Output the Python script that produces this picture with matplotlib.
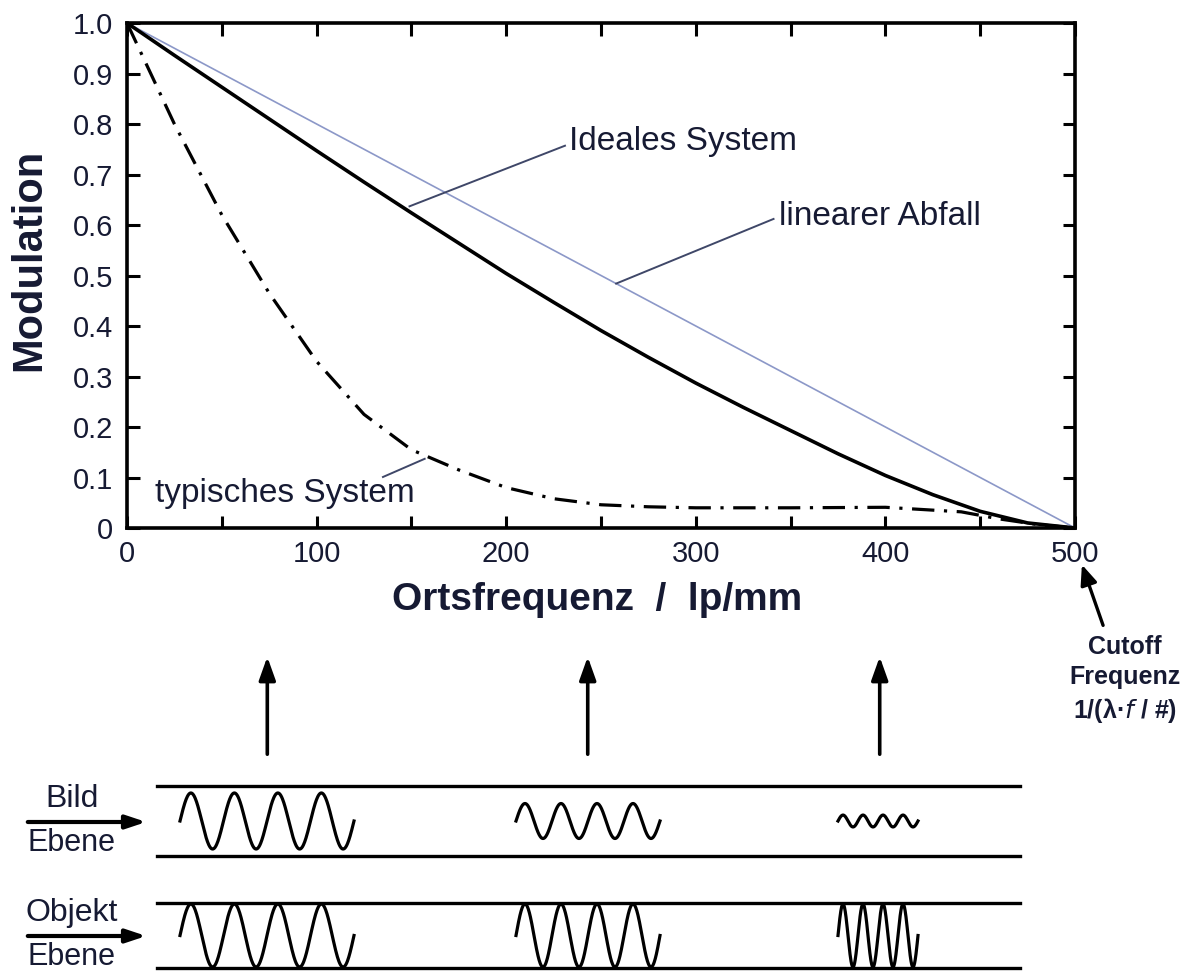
import numpy as np
import matplotlib
matplotlib.use("Agg")
import matplotlib.pyplot as plt

plt.rcParams['font.family'] = ['Liberation Sans', 'DejaVu Sans']

# ---------------- data ----------------
freq_ideal = [0, 25, 50, 75, 100, 125, 150, 175, 200, 225, 250, 275, 300,
              325, 350, 375, 400, 425, 450, 475, 500]
mtf_ideal = [1.0, 0.936, 0.873, 0.810, 0.747, 0.685, 0.624, 0.564, 0.504,
             0.447, 0.391, 0.338, 0.287, 0.239, 0.193, 0.147, 0.104, 0.066,
             0.033, 0.010, 0.0]

freq_linear = [0, 500]
mtf_linear = [1.0, 0.0]

freq_typical = [0, 10, 25, 50, 75, 100, 125, 150, 175, 200, 225, 250, 275,
                300, 350, 400, 440, 460, 480, 500]
mtf_typical = [1.0, 0.92, 0.80, 0.62, 0.465, 0.33, 0.225, 0.155, 0.115,
               0.080, 0.058, 0.046, 0.042, 0.040, 0.040, 0.041, 0.032,
               0.018, 0.007, 0.0]

x_ticks = [0, 100, 200, 300, 400, 500]
x_minor = [50, 150, 250, 350, 450]
y_ticks = [0, 0.1, 0.2, 0.3, 0.4, 0.5, 0.6, 0.7, 0.8, 0.9, 1.0]
y_ticklabels = ['0', '0.1', '0.2', '0.3', '0.4', '0.5', '0.6', '0.7', '0.8', '0.9', '1.0']

# wave diagram: frequencies sampled (arrows), image amplitudes relative to object
sample_freqs = [74, 243, 397]
image_amplitude = [0.85, 0.53, 0.18]
wave_cycles = [4, 4, 4]

TXT = '#161a33'
W, H = 1182, 973

fig = plt.figure(figsize=(W / 100, H / 100), dpi=100)
ax = fig.add_axes([127 / W, 1 - 528 / H, (1075 - 127) / W, (528 - 23) / H])

ax.plot(freq_linear, mtf_linear, color='#8c98c8', lw=1.2, zorder=2)
ax.plot(freq_ideal, mtf_ideal, color='black', lw=2.6, zorder=3,
        solid_capstyle='round')
ax.plot(freq_typical, mtf_typical, color='black', lw=2.3, zorder=3,
        linestyle=(0, (7, 3, 1, 3)))

ax.set_xlim(0, 500)
ax.set_ylim(0, 1.0)
ax.set_xticks(x_ticks)
ax.set_xticks(x_minor, minor=True)
ax.set_yticks(y_ticks)
ax.set_yticklabels(y_ticklabels)
ax.tick_params(axis='both', which='both', direction='in', length=9, width=2.2,
               top=True, right=True, labelsize=21, labelcolor=TXT)
ax.tick_params(axis='y', pad=10)
ax.tick_params(axis='x', pad=9)
for s in ax.spines.values():
    s.set_linewidth(2.6)

fig.text(29 / W, 1 - 260 / H, 'Modulation', fontsize=30, fontweight='bold',
         color=TXT, rotation=90, ha='center', va='center')
fig.text(597 / W, 1 - 600 / H, 'Ortsfrequenz  /  lp/mm', fontsize=28,
         fontweight='bold', color=TXT, ha='center', va='center')

lead = dict(color='#3f4768', lw=1.4)
ax.plot([149, 231], [0.637, 0.757], **lead)
ax.text(233, 0.766, 'Ideales System', fontsize=24, color=TXT, va='center', ha='left')
ax.plot([258, 341], [0.484, 0.612], **lead)
ax.text(344, 0.617, 'linearer Abfall', fontsize=24, color=TXT, va='center', ha='left')
ax.plot([135, 157], [0.101, 0.137], **lead)
ax.text(15, 0.069, 'typisches System', fontsize=24, color=TXT, va='center', ha='left')

# ---------------- lower schematic (pixel coordinates overlay) ----------------
ov = fig.add_axes([0, 0, 1, 1])
ov.set_xlim(0, W)
ov.set_ylim(H, 0)
ov.axis('off')

# cutoff arrow + text
ov.annotate('', xy=(1081, 562), xytext=(1104, 628),
            arrowprops=dict(arrowstyle='-|>,head_length=1.2,head_width=0.5',
                            color='black', lw=2.4))
ov.text(1125, 680, 'Cutoff\nFrequenz\n1/(λ·$f$ / #)', ha='center', va='center',
        fontsize=18, color=TXT, linespacing=1.3, fontweight='bold')

# vertical arrows from waves to chart
arrow_px = [127 + f * (1075 - 127) / 500 for f in sample_freqs]
for xp in arrow_px:
    ov.annotate('', xy=(xp, 654), xytext=(xp, 757),
                arrowprops=dict(arrowstyle='-|>,head_length=1.4,head_width=0.5',
                                color='black', lw=2.6))

# bands
band_x0, band_x1 = 157, 1020
bands = {'bild': (786, 856), 'objekt': (903, 968)}
for top, bot in bands.values():
    ov.plot([band_x0, band_x1], [top, top], color='black', lw=2.4)
    ov.plot([band_x0, band_x1], [bot, bot], color='black', lw=2.4)

wave_ranges = [(180, 354), (516, 660), (838, 918)]
for (x0, x1), amp, nc in zip(wave_ranges, image_amplitude, wave_cycles):
    t = np.linspace(0, 1, 400)
    xs = x0 + (x1 - x0) * t
    phase = 2 * np.pi * nc * t
    c_obj = (bands['objekt'][0] + bands['objekt'][1]) / 2
    a_obj = (bands['objekt'][1] - bands['objekt'][0]) / 2 - 1
    ov.plot(xs, c_obj - a_obj * np.sin(phase), color='black', lw=2.3)
    c_img = 821
    ov.plot(xs, c_img - 33 * amp * np.sin(phase), color='black', lw=2.3)

# left labels with arrows
for name, ytxt, yarr, ylow in [('Bild', 799, 822, 843), ('Objekt', 913, 936, 957)]:
    ov.text(72, ytxt, name, ha='center', va='center', fontsize=23, color=TXT)
    ov.annotate('', xy=(149, yarr), xytext=(25, yarr),
                arrowprops=dict(arrowstyle='-|>,head_length=1.2,head_width=0.4',
                                color='black', lw=3))
    ov.text(72, ylow, 'Ebene', ha='center', va='center', fontsize=22, color=TXT)

fig.savefig('out.png', dpi=100)
